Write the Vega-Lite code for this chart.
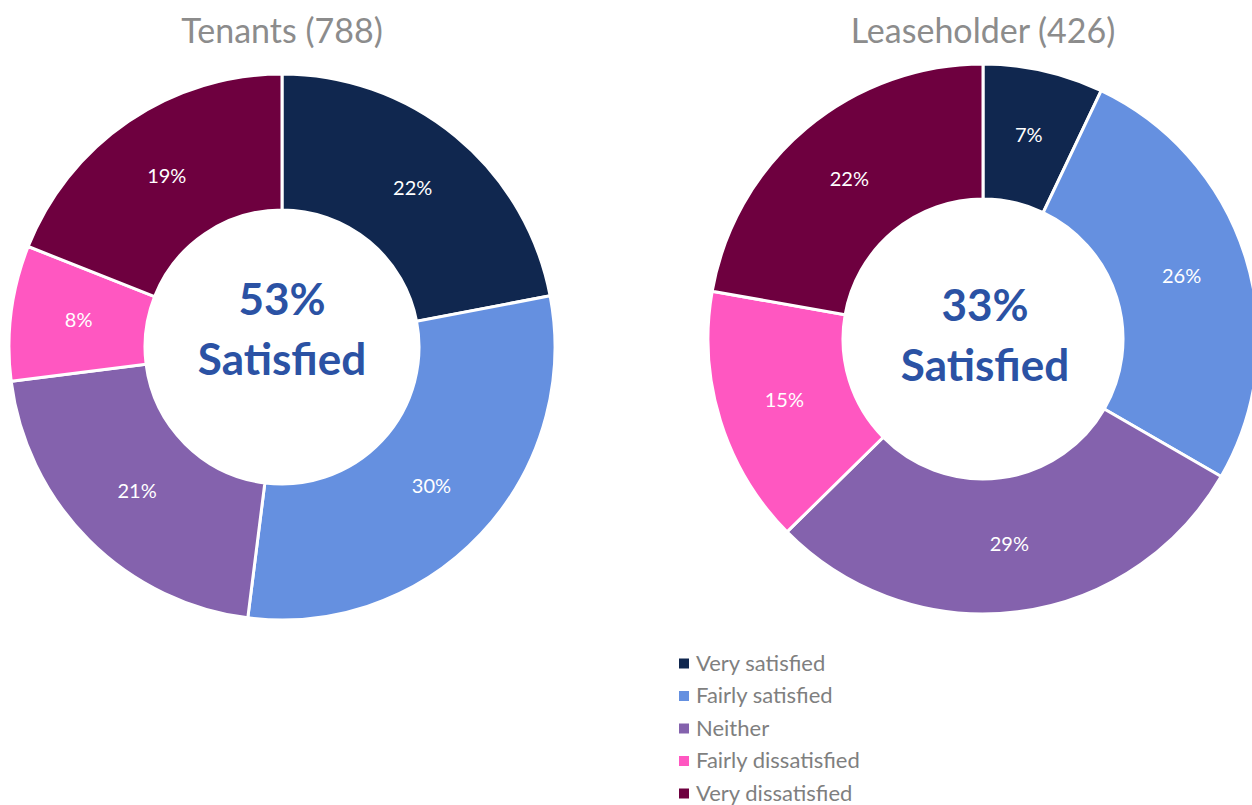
{
  "$schema": "https://vega.github.io/schema/vega-lite/v6.json",
  "padding": {"top": 16, "left": 0, "right": 0, "bottom": 0},
  "background": "white",
  "spacing": 138,
  "datasets": {
    "responses": [
      {"group": "Tenants", "response": "Very satisfied", "rank": 1, "pct": 0.22},
      {"group": "Tenants", "response": "Fairly satisfied", "rank": 2, "pct": 0.30},
      {"group": "Tenants", "response": "Neither", "rank": 3, "pct": 0.21},
      {"group": "Tenants", "response": "Fairly dissatisfied", "rank": 4, "pct": 0.08},
      {"group": "Tenants", "response": "Very dissatisfied", "rank": 5, "pct": 0.19},
      {"group": "Leaseholder", "response": "Very satisfied", "rank": 1, "pct": 0.07},
      {"group": "Leaseholder", "response": "Fairly satisfied", "rank": 2, "pct": 0.26},
      {"group": "Leaseholder", "response": "Neither", "rank": 3, "pct": 0.29},
      {"group": "Leaseholder", "response": "Fairly dissatisfied", "rank": 4, "pct": 0.15},
      {"group": "Leaseholder", "response": "Very dissatisfied", "rank": 5, "pct": 0.22}
    ],
    "centre": [
      {"group": "Tenants", "text": "53%\nSatisfied"},
      {"group": "Leaseholder", "text": "33%\nSatisfied"}
    ]
  },
  "hconcat": [
    {
      "title": "Tenants (788)",
      "width": 564,
      "height": 596,
      "layer": [
        {
          "data": {"name": "responses"},
          "transform": [{"filter": "datum.group === 'Tenants'"}],
          "mark": {"type": "arc", "outerRadius": 273, "innerRadius": 137, "stroke": "white", "strokeWidth": 3},
          "encoding": {
            "theta": {"field": "pct", "type": "quantitative", "stack": true},
            "order": {"field": "rank", "type": "ordinal"},
            "color": {
              "field": "response",
              "type": "nominal",
              "scale": {
                "domain": ["Very satisfied", "Fairly satisfied", "Neither", "Fairly dissatisfied", "Very dissatisfied"],
                "range": ["#10274F", "#6590E0", "#8462AD", "#FF57C1", "#6E003F"]
              },
              "legend": {
                "orient": "none",
                "legendX": 673,
                "legendY": 603.5,
                "title": null,
                "symbolType": "square",
                "symbolSize": 100,
                "symbolStrokeWidth": 0,
                "labelFontSize": 22,
                "labelFont": "Lato",
                "labelColor": "#7F7F7F",
                "labelOffset": 1,
                "labelLimit": 400,
                "rowPadding": 10.5,
                "padding": 0
              }
            }
          }
        },
        {
          "data": {"name": "responses"},
          "transform": [{"filter": "datum.group === 'Tenants'"}],
          "mark": {"type": "text", "radius": 205, "color": "white", "fontSize": 20, "font": "Lato"},
          "encoding": {
            "theta": {"field": "pct", "type": "quantitative", "stack": true},
            "order": {"field": "rank", "type": "ordinal"},
            "text": {"field": "pct", "type": "quantitative", "format": ".0%"}
          }
        },
        {
          "data": {"name": "centre"},
          "transform": [{"filter": "datum.group === 'Tenants'"}],
          "mark": {"type": "text", "font": "Lato", "fontWeight": "bold", "fontSize": 44, "color": "#2B52A4", "lineBreak": "\n", "lineHeight": 60, "dy": -45},
          "encoding": {"text": {"field": "text", "type": "nominal"}}
        }
      ]
    },
    {
      "title": "Leaseholder (426)",
      "width": 550,
      "height": 580,
      "layer": [
        {
          "data": {"name": "responses"},
          "transform": [{"filter": "datum.group === 'Leaseholder'"}],
          "mark": {"type": "arc", "outerRadius": 275, "innerRadius": 140, "stroke": "white", "strokeWidth": 3},
          "encoding": {
            "theta": {"field": "pct", "type": "quantitative", "stack": true},
            "order": {"field": "rank", "type": "ordinal"},
            "color": {"field": "response", "type": "nominal"}
          }
        },
        {
          "data": {"name": "responses"},
          "transform": [{"filter": "datum.group === 'Leaseholder'"}],
          "mark": {"type": "text", "radius": 208, "color": "white", "fontSize": 20, "font": "Lato"},
          "encoding": {
            "theta": {"field": "pct", "type": "quantitative", "stack": true},
            "order": {"field": "rank", "type": "ordinal"},
            "text": {"field": "pct", "type": "quantitative", "format": ".0%"}
          }
        },
        {
          "data": {"name": "centre"},
          "transform": [{"filter": "datum.group === 'Leaseholder'"}],
          "mark": {"type": "text", "font": "Lato", "fontWeight": "bold", "fontSize": 44, "color": "#2B52A4", "lineBreak": "\n", "lineHeight": 60, "dy": -31, "dx": 2},
          "encoding": {"text": {"field": "text", "type": "nominal"}}
        }
      ]
    }
  ],
  "config": {
    "view": {"stroke": null},
    "title": {"fontSize": 34, "color": "#8C8C8C", "font": "Lato", "fontWeight": "normal", "offset": -1}
  }
}
